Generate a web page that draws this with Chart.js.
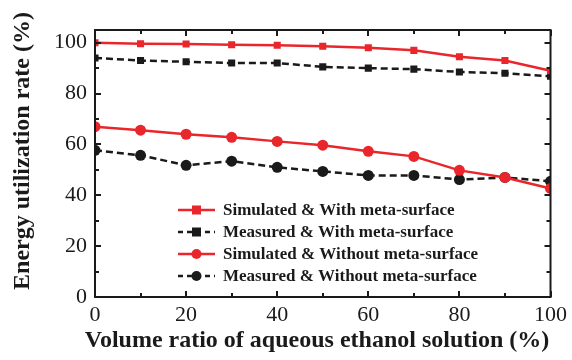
<!DOCTYPE html>
<html>
<head>
<meta charset="utf-8">
<script src="https://cdn.jsdelivr.net/npm/chart.js@4/dist/chart.umd.min.js"></script>
<style>
  html, body { margin: 0; background: #fff; }
  #chart { display: block; }
</style>
</head>
<body>
<canvas id="chart" width="572" height="360"></canvas>
<script>
// values
const volumeRatio = [0, 10, 20, 30, 40, 50, 60, 70, 80, 90, 100];
const simulatedWith = [100, 99.6, 99.5, 99.2, 99, 98.6, 98, 97, 94.5, 93, 89];
const measuredWith = [94, 93, 92.5, 92, 92, 90.5, 90, 89.6, 88.5, 88, 86.8];
const simulatedWithout = [67, 65.6, 64, 62.8, 61.2, 59.7, 57.3, 55.3, 49.8, 47, 42.7];
const measuredWithout = [57.7, 55.7, 51.8, 53.4, 51, 49.4, 47.8, 47.8, 46.2, 47, 45.5];
const seriesNames = [
    'Simulated & With meta-surface',
    'Measured & With meta-surface',
    'Simulated & Without meta-surface',
    'Measured & Without meta-surface'
];
const xTickValues = [0, 20, 40, 60, 80, 100];
const yTickValues = [0, 20, 40, 60, 80, 100];
const xTitle = 'Volume ratio of aqueous ethanol solution (%)';
const yTitle = 'Energy utilization rate (%)';

const RED = '#e8262c';
const BLACK = '#1a1a1a';
const SERIF = '"Liberation Serif", "Times New Roman", serif';

function points(ys) {
    return volumeRatio.map((x, i) => ({ x: x, y: ys[i] }));
}

function makeSet(label, ys, color, style, dashed) {
    return {
        label: label,
        data: points(ys),
        borderColor: color,
        backgroundColor: color,
        borderWidth: 2.5,
        borderDash: dashed ? [7, 4] : [],
        pointStyle: style,
        pointRadius: style === 'rect' ? 5 : 5.5,
        pointBorderWidth: 0,
        tension: 0,
        clip: 0
    };
}

// closed frame, inward ticks on all four sides, axis titles
const framePlugin = {
    id: 'frame',
    afterDraw(chart) {
        const { ctx, chartArea: a, scales } = chart;
        ctx.save();
        ctx.setLineDash([]);
        ctx.strokeStyle = BLACK;
        ctx.lineWidth = 2;
        ctx.strokeRect(a.left, a.top, a.right - a.left, a.bottom - a.top);
        ctx.beginPath();
        for (let v = 0; v <= 100; v += 10) {
            const px = Math.round(scales.x.getPixelForValue(v));
            const len = v % 20 === 0 ? 6 : 4;
            ctx.moveTo(px, a.bottom); ctx.lineTo(px, a.bottom - len);
            ctx.moveTo(px, a.top); ctx.lineTo(px, a.top + len);
        }
        for (let v = 0; v <= 100; v += 10) {
            const py = Math.round(scales.y.getPixelForValue(v));
            const len = v % 20 === 0 ? 6 : 4;
            ctx.moveTo(a.left, py); ctx.lineTo(a.left + len, py);
            ctx.moveTo(a.right, py); ctx.lineTo(a.right - len, py);
        }
        ctx.stroke();

        ctx.fillStyle = BLACK;
        ctx.font = 'bold 24px ' + SERIF;
        ctx.textAlign = 'center';
        ctx.textBaseline = 'middle';
        ctx.fillText(xTitle, 317, 341);
        ctx.translate(23, 151);
        ctx.rotate(-Math.PI / 2);
        ctx.fillText(yTitle, 0, 0);
        ctx.restore();
    }
};

// legend drawn inside the plot area
const legendPlugin = {
    id: 'insideLegend',
    afterDraw(chart) {
        const { ctx, chartArea: a } = chart;
        const x0 = a.left + 83;
        const y0 = a.top + 180;
        const rowH = 22;
        ctx.save();
        ctx.font = 'bold 17px ' + SERIF;
        ctx.textBaseline = 'middle';
        chart.data.datasets.forEach((ds, i) => {
            const y = y0 + i * rowH;
            ctx.strokeStyle = ds.borderColor;
            ctx.fillStyle = ds.borderColor;
            ctx.lineWidth = ds.borderWidth;
            ctx.setLineDash(ds.borderDash.length ? [5, 4] : []);
            ctx.beginPath();
            ctx.moveTo(x0, y);
            ctx.lineTo(x0 + 37, y);
            ctx.stroke();
            ctx.setLineDash([]);
            const mx = x0 + 18.5;
            if (ds.pointStyle === 'rect') {
                ctx.fillRect(mx - 4.5, y - 4.5, 9, 9);
            } else {
                ctx.beginPath();
                ctx.arc(mx, y, 5, 0, Math.PI * 2);
                ctx.fill();
            }
            ctx.fillStyle = BLACK;
            ctx.fillText(ds.label, x0 + 45, y + 1);
        });
        ctx.restore();
    }
};

new Chart(document.getElementById('chart'), {
    type: 'line',
    data: {
        datasets: [
            makeSet(seriesNames[0], simulatedWith, RED, 'rect', false),
            makeSet(seriesNames[1], measuredWith, BLACK, 'rect', true),
            makeSet(seriesNames[2], simulatedWithout, RED, 'circle', false),
            makeSet(seriesNames[3], measuredWithout, BLACK, 'circle', true)
        ]
    },
    options: {
        responsive: false,
        animation: false,
        layout: { padding: { left: 0, right: 19, top: 30, bottom: 0 } },
        plugins: {
            legend: { display: false },
            tooltip: { enabled: false }
        },
        scales: {
            x: {
                type: 'linear',
                min: 0,
                max: 100,
                grid: { display: false, drawTicks: false },
                border: { display: false },
                ticks: {
                    padding: 5,
                    color: BLACK,
                    font: { family: SERIF, size: 22 },
                    maxRotation: 0,
                    autoSkip: false
                },
                afterBuildTicks(scale) {
                    scale.ticks = xTickValues.map(v => ({ value: v }));
                },
                afterFit(scale) { scale.height = 63; }
            },
            y: {
                min: 0,
                max: 105,
                grid: { display: false, drawTicks: false },
                border: { display: false },
                ticks: {
                    padding: 8,
                    color: BLACK,
                    font: { family: SERIF, size: 22 },
                    autoSkip: false
                },
                afterBuildTicks(scale) {
                    scale.ticks = yTickValues.map(v => ({ value: v }));
                },
                afterFit(scale) { scale.width = 95; }
            }
        }
    },
    plugins: [framePlugin, legendPlugin]
});
</script>
</body>
</html>
